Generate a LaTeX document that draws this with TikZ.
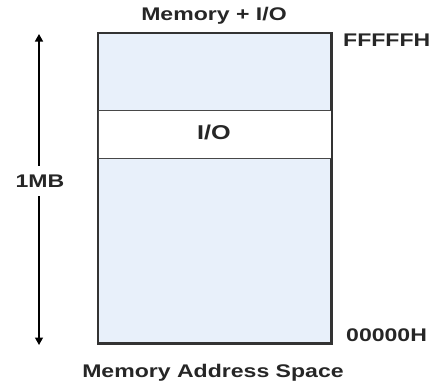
\documentclass[tikz,border=0pt]{standalone}
\usepackage{fontspec}
\newfontfamily\lbl[FakeStretch=1.26]{Liberation Sans}
\usetikzlibrary{arrows.meta}
\definecolor{memfill}{HTML}{E8F0FA}
\definecolor{edge}{HTML}{333333}
\tikzset{
  lab/.style={font=\lbl\bfseries\fontsize{18.3}{20}\selectfont, text=black!85, inner sep=0pt},
  region/.style={draw=edge, line width=1.1pt, minimum width=233pt, inner sep=0pt},
  span/.style={line width=1.4pt, -{Triangle[length=7.5pt,width=8pt]}}
}
\begin{document}
\begin{tikzpicture}[x=1pt,y=-1pt]
\useasboundingbox (0,0) rectangle (444,383);
% whole space
\node[region, fill=memfill, minimum height=310pt, line width=1.5pt] (space) at (214.5,188) {};
% I/O band
\node[region, fill=white, minimum height=48pt, line width=0.9pt, draw=edge!90] (io) at (214.5,134) {};
\draw[edge, line width=1.5pt] (space.north west) rectangle (space.south east);
\node[lab, font=\lbl\bfseries\fontsize{20}{22}\selectfont] (iot) at (214,132) {I/O};
\node[lab] (title) at (214,16) {Memory + I/O};
\node[lab, anchor=west] (hi) at (343,40) {FFFFFH};
\node[lab, anchor=west] (lo) at (346,335) {00000H};
\node[lab] (cap) at (213,373) {Memory Address Space};
\node[lab, inner sep=9pt] (mb) at (40,181) {1MB};
\coordinate (top) at (39,34);
\coordinate (bot) at (39,345);
\draw[span] (mb.north -| top) -- (top);
\draw[span] (mb.south -| bot) -- (bot);
\end{tikzpicture}
\end{document}
